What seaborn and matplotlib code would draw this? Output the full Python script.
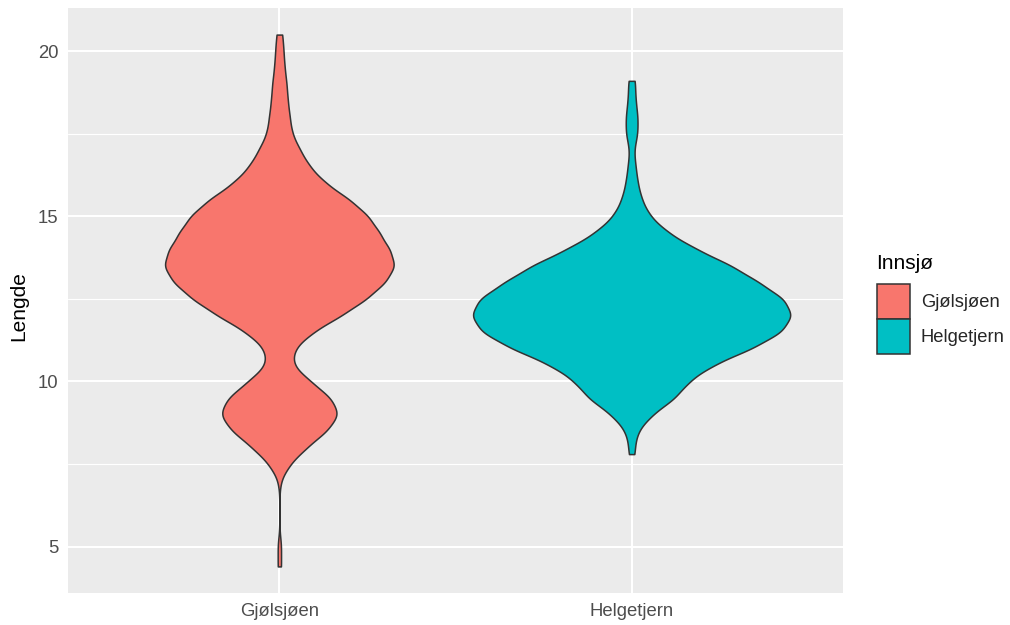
import numpy as np
import pandas as pd
import matplotlib
matplotlib.use("Agg")
import matplotlib.pyplot as plt
from matplotlib.patches import Patch
from matplotlib.ticker import FixedLocator
import seaborn as sns

# Lakes and their fill colours
lakes = ["Gjølsjøen", "Helgetjern"]
lake_colors = ["#F8766D", "#00BFC4"]

# Fish lengths (cm) and the number of fish measured at each length
gjol_lengths = [4.4, 5.0, 7.0, 7.5, 8.0, 8.5, 9.0, 9.5, 10.0, 10.5, 11.0, 11.5,
                12.0, 12.5, 13.0, 13.5, 14.0, 14.5, 15.0, 15.5, 16.0, 16.5,
                17.0, 17.5, 18.0, 18.5, 19.0, 19.5, 20.0, 20.5]
gjol_counts = [2, 2, 1, 10, 26, 46, 58, 50, 30, 12, 14, 32,
               60, 84, 102, 112, 106, 96, 86, 68, 44, 29,
               20, 12, 10, 8, 7, 5, 4, 3]

helge_lengths = [7.8, 8.0, 8.5, 9.0, 9.5, 10.0, 10.5, 11.0, 11.5, 12.0, 12.5,
                 13.0, 13.5, 14.0, 14.5, 15.0, 15.5, 16.0, 16.5, 17.0, 17.5,
                 18.0, 18.5, 19.0, 19.1]
helge_counts = [1, 1, 3, 10, 22, 28, 40, 60, 75, 80, 76,
                63, 50, 32, 18, 9, 5, 3, 2, 1, 3,
                3, 2, 1, 1]

y_ticks = [5, 10, 15, 20]
y_minor = [7.5, 12.5, 17.5]

df = pd.DataFrame({
    "Innsjø": np.repeat(lakes, [sum(gjol_counts), sum(helge_counts)]),
    "Lengde": np.concatenate([np.repeat(gjol_lengths, gjol_counts),
                              np.repeat(helge_lengths, helge_counts)]),
})

sns.set_theme(style="darkgrid")
plt.rcParams["font.family"] = ["Liberation Sans", "DejaVu Sans"]


def fixed_bandwidth(kde):
    # Same absolute kernel width (cm) for every lake
    return 0.3 / np.std(kde.dataset, ddof=1)


fig = plt.figure(figsize=(10.1, 6.25), dpi=100)
fig.patch.set_facecolor("white")
ax = fig.add_axes([68 / 1010, 1 - 593 / 625, (843 - 68) / 1010, (593 - 8) / 625])
ax.set_facecolor("#EBEBEB")

# Equal-area violins, trimmed at the observed range
sns.violinplot(
    data=df, x="Innsjø", y="Lengde", hue="Innsjø", order=lakes, hue_order=lakes,
    palette=dict(zip(lakes, lake_colors)), saturation=1, inner=None, cut=0,
    width=0.9, linewidth=1.1, linecolor="#333333", bw_method=fixed_bandwidth,
    gridsize=500, density_norm="area", common_norm=True, legend=False, ax=ax,
)

ax.set_xlim(-0.6, 1.6)
ax.set_ylim(3.595, 21.305)
ax.set_yticks(y_ticks)
ax.yaxis.set_minor_locator(FixedLocator(y_minor))
ax.set_axisbelow(True)
ax.grid(which="major", color="white", linewidth=1.5)
ax.grid(which="minor", axis="y", color="white", linewidth=0.8)
for s in ax.spines.values():
    s.set_visible(False)

ax.tick_params(axis="both", which="major", length=4, width=1.1, color="#333333",
               labelcolor="#4D4D4D", labelsize=13.3, pad=3)
ax.tick_params(axis="y", which="minor", length=0)
ax.set_xlabel("")
ax.set_ylabel("Lengde", fontsize=15, color="black")
ax.yaxis.set_label_coords(-0.051, 0.49)

# Legend: title plus two touching colour keys
fig.text(876 / 1010, 1 - 263 / 625, "Innsjø", fontsize=15, color="black",
         ha="left", va="center")
handles = [Patch(facecolor=c, edgecolor="#333333", linewidth=1.1, label=l)
           for l, c in zip(lakes, lake_colors)]
fig.legend(handles=handles, loc="upper left",
           bbox_to_anchor=(873 / 1010, 1 - 280 / 625), frameon=False,
           fontsize=13.2, handlelength=1.8, handleheight=2.56,
           labelspacing=0.0, handletextpad=0.6, borderaxespad=0,
           borderpad=0.2)

fig.savefig("out.png", dpi=100)
